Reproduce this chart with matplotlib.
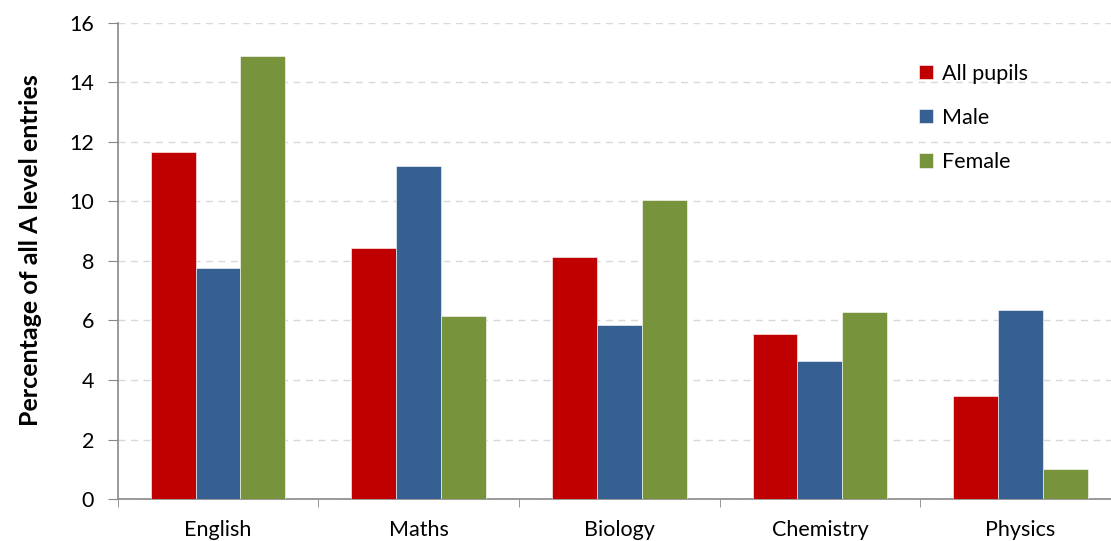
import numpy as np
import matplotlib.pyplot as plt
from matplotlib.ticker import MultipleLocator

subjects = ["English", "Maths", "Biology", "Chemistry", "Physics"]
all_pupils = [11.65, 8.45, 8.15, 5.55, 3.45]
male = [7.75, 11.2, 5.85, 4.65, 6.35]
female = [14.9, 6.15, 10.05, 6.3, 1.0]

series = [("All pupils", all_pupils, "#C00000"),
          ("Male", male, "#376092"),
          ("Female", female, "#77933C")]

plt.rcParams['font.family'] = ['Lato', 'DejaVu Sans']

fig = plt.figure(figsize=(11.11, 5.41), dpi=100)
ax = fig.add_axes([0.1059, 0.0776, 0.903, 0.88])

x = np.arange(len(subjects))
width = 0.224
for i, (name, vals, col) in enumerate(series):
    ax.bar(x + (i - 1) * width, vals, width, color=col, label=name,
           edgecolor="white", linewidth=0.4, zorder=3)

ax.set_xlim(-0.5, len(subjects) - 0.5)
ax.set_ylim(0, 16)
ax.yaxis.set_major_locator(MultipleLocator(2))
ax.set_xticks(x)
ax.set_xticklabels(subjects)
ax.set_xticks(np.arange(-0.5, len(subjects) - 0.4, 1), minor=True)
ax.tick_params(axis="x", which="major", length=0, pad=15, labelsize=15.5)
ax.tick_params(axis="x", which="minor", length=6, color="#888888", direction="out")
ax.tick_params(axis="y", length=7, color="#888888", labelsize=15.5, pad=10)

ax.grid(axis="y", color="#D9D9D9", linestyle=(0, (5, 4)), linewidth=1, zorder=0)
for s in ["top", "right"]:
    ax.spines[s].set_visible(False)
for s in ["left", "bottom"]:
    ax.spines[s].set_color("#888888")
    ax.spines[s].set_linewidth(1.2)

ax.set_ylabel("Percentage of all A level entries", fontsize=18, fontweight="bold")
ax.yaxis.set_label_coords(-0.075, 0.523)

ax.legend(loc="upper left", bbox_to_anchor=(0.779, 0.955), frameon=False, fontsize=15.5,
          handlelength=0.65, handleheight=0.65, handletextpad=0.45, labelspacing=1.12)

fig.savefig("out.png", dpi=100)
